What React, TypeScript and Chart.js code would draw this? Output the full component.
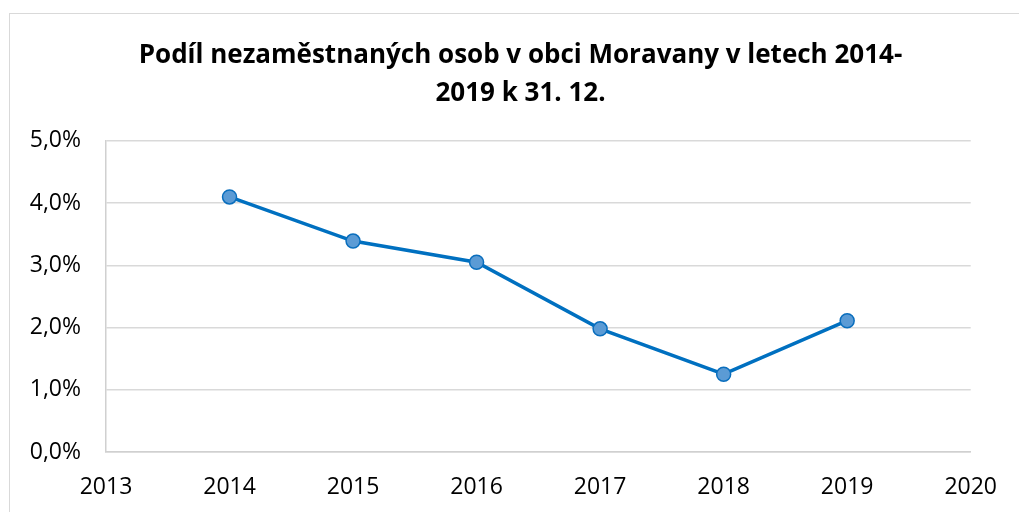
import React, { useEffect, useRef } from "react";
import { Chart, registerables } from "chart.js";

Chart.register(...registerables);

const years = [2014, 2015, 2016, 2017, 2018, 2019];
const shareValues = [4.1, 3.39, 3.05, 1.98, 1.25, 2.11];
const titleLines = ["Podíl nezaměstnaných osob v obci Moravany v letech 2014-", "2019 k 31. 12."];
const xMin = 2013;
const xMax = 2020;
const yMin = 0;
const yMax = 5;

const FONT = "'Open Sans', 'Noto Sans', sans-serif";

export default function App() {
  const ref = useRef<HTMLCanvasElement | null>(null);
  useEffect(() => {
    if (!ref.current) return;
    const chart = new Chart(ref.current, {
      type: "line",
      data: {
        datasets: [
          {
            data: years.map((y, i) => ({ x: y, y: shareValues[i] })),
            borderColor: "#0070C0",
            borderWidth: 3.5,
            pointRadius: 7,
            pointBackgroundColor: "#5B9BD5",
            pointBorderColor: "#0A6EBD",
            pointBorderWidth: 1.5,
            tension: 0,
          },
        ],
      },
      options: {
        animation: false,
        responsive: false,
        layout: { padding: { left: 22, right: 0, top: 0, bottom: 0 } },
        plugins: {
          legend: { display: false },
          tooltip: { enabled: false },
          title: {
            display: true,
            text: titleLines,
            color: "#000",
            font: { family: FONT, size: 26, weight: "bold", lineHeight: 1.46 },
            padding: { top: 37, bottom: 28 },
          },
        },
        scales: {
          x: {
            type: "linear",
            min: xMin,
            max: xMax,
            ticks: {
              stepSize: 1,
              color: "#000",
              font: { family: FONT, size: 23 },
              padding: 22,
              callback: (v: any) => String(v),
              maxRotation: 0,
            },
            grid: { display: false, drawTicks: false },
            border: { display: true, color: "#d0d0d0", width: 1.5 },
            afterFit: (s: any) => {
              s.height = 60;
            },
          },
          y: {
            min: yMin,
            max: yMax,
            ticks: {
              stepSize: 1,
              color: "#000",
              font: { family: FONT, size: 23 },
              padding: 25,
              callback: (v: any) => Number(v).toFixed(1).replace(".", ",") + "%",
            },
            grid: { color: "#d9d9d9", lineWidth: 1.5, drawTicks: false },
            border: { display: true, color: "#d0d0d0", width: 1.5 },
            afterFit: (s: any) => {
              s.width = 84;
            },
          },
          yRight: {
            position: "right",
            display: true,
            ticks: { display: false },
            grid: { display: false, drawTicks: false },
            border: { display: false },
            afterFit: (s: any) => {
              s.width = 46;
            },
          },
        },
      } as any,
    });
    return () => chart.destroy();
  }, []);
  return (
    <div style={{ position: "absolute", left: 0, top: 0, width: 1019, height: 512, overflow: "hidden", background: "#fff" }}>
      <div
        style={{
          position: "absolute",
          left: 9,
          top: 13,
          width: 1040,
          height: 560,
          border: "1.5px solid #d9d9d9",
          boxSizing: "border-box",
        }}
      />
      <canvas ref={ref} width={1019} height={512} style={{ position: "absolute", left: 0, top: 0, width: 1019, height: 512 }} />
    </div>
  );
}
